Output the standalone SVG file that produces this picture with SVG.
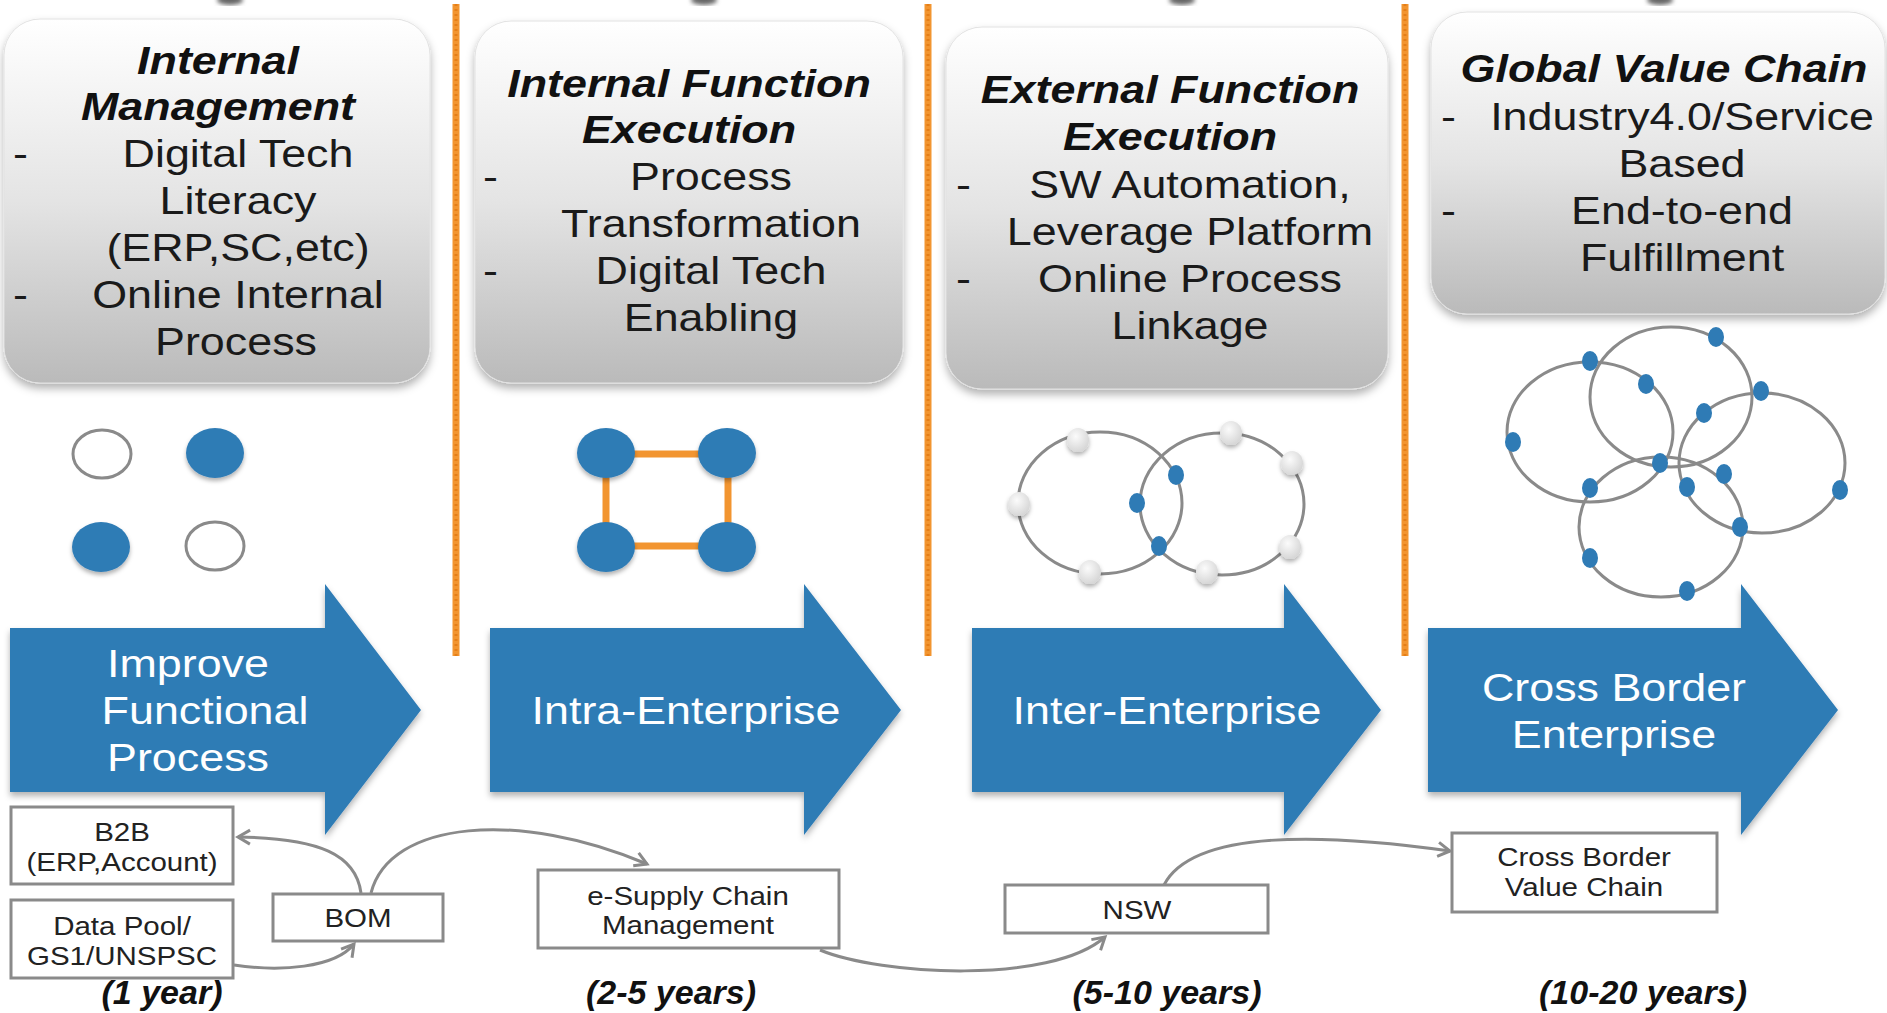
<svg xmlns="http://www.w3.org/2000/svg" width="1887" height="1013" viewBox="0 0 1887 1013">
<defs>
<style>
.t{font-family:"Liberation Sans",Arial,sans-serif;font-size:38px;fill:#1a1a1a;text-anchor:middle}
.h{font-family:"Liberation Sans",Arial,sans-serif;font-size:38px;font-weight:bold;font-style:italic;fill:#111;text-anchor:middle}
.d{font-family:"Liberation Sans",Arial,sans-serif;font-size:38px;fill:#1a1a1a;text-anchor:start}
.w{font-family:"Liberation Sans",Arial,sans-serif;font-size:38px;fill:#ffffff;text-anchor:middle}
.s{font-family:"Liberation Sans",Arial,sans-serif;font-size:25px;fill:#222;text-anchor:middle}
.y{font-family:"Liberation Sans",Arial,sans-serif;font-size:34px;font-weight:bold;font-style:italic;fill:#111;text-anchor:middle}
.card{fill:url(#cardg);stroke:#e2e2e2;stroke-width:1;filter:url(#sh)}
.arrow{fill:#2f7bb5;filter:url(#sh2)}
.sep{stroke:#f29530;stroke-width:7;fill:none}
.sep2{stroke:#e57f18;stroke-width:3;fill:none;stroke-dasharray:2 3}
.ring{fill:none;stroke:#8a8a8a;stroke-width:3}
.hollow{fill:#fff;stroke:#8a8a8a;stroke-width:3}
.blue{fill:#2f7bb5;filter:url(#sh3)}
.bd{fill:#2f7bb5}
.wd{fill:url(#wg);filter:url(#sh3)}
.ol{stroke:#f29530;stroke-width:7;fill:none}
.box{fill:#fff;stroke:#8a8a8a;stroke-width:3}
.con{fill:none;stroke:#8a8a8a;stroke-width:3;marker-end:url(#ah)}
</style>
<linearGradient id="cardg" x1="0" y1="0" x2="0" y2="1">
<stop offset="0" stop-color="#ffffff"/>
<stop offset="0.5" stop-color="#e4e4e4"/>
<stop offset="1" stop-color="#bababa"/>
</linearGradient>
<radialGradient id="wg" cx="0.4" cy="0.35" r="0.7">
<stop offset="0" stop-color="#fbfbfb"/>
<stop offset="1" stop-color="#d4d4d4"/>
</radialGradient>
<filter id="sh" x="-10%" y="-10%" width="120%" height="125%">
<feDropShadow dx="0" dy="5" stdDeviation="4" flood-color="#000" flood-opacity="0.3"/>
</filter>
<filter id="sh2" x="-10%" y="-10%" width="120%" height="125%">
<feDropShadow dx="0" dy="4" stdDeviation="3" flood-color="#000" flood-opacity="0.3"/>
</filter>
<filter id="sh3" x="-40%" y="-40%" width="180%" height="190%">
<feDropShadow dx="0" dy="3" stdDeviation="2" flood-color="#000" flood-opacity="0.3"/>
</filter>
<filter id="blur"><feGaussianBlur stdDeviation="2"/></filter>
<marker id="ah" markerWidth="18" markerHeight="18" refX="14" refY="9" orient="auto" markerUnits="userSpaceOnUse">
<path d="M2,2 L14,9 L2,16" fill="none" stroke="#8a8a8a" stroke-width="3"/>
</marker>
</defs>
<rect x="0" y="0" width="1887" height="1013" fill="#ffffff"/>

<g id="top-bits" fill="#666" filter="url(#blur)">
<ellipse cx="230" cy="0" rx="13" ry="5"/>
<ellipse cx="704" cy="0" rx="13" ry="5"/>
<ellipse cx="1182" cy="0" rx="13" ry="5"/>
<ellipse cx="1660" cy="0" rx="13" ry="5"/>
</g>

<g id="separators">
<line class="sep" x1="456" y1="4" x2="456" y2="656"/>
<line class="sep2" x1="456" y1="4" x2="456" y2="656"/>
<line class="sep" x1="928" y1="4" x2="928" y2="656"/>
<line class="sep2" x1="928" y1="4" x2="928" y2="656"/>
<line class="sep" x1="1405" y1="4" x2="1405" y2="656"/>
<line class="sep2" x1="1405" y1="4" x2="1405" y2="656"/>
</g>

<g id="card1">
<rect class="card" x="4" y="19" width="426" height="364" rx="36"/>
<text class="h" transform="translate(218 74) scale(1.18 1)">Internal</text>
<text class="h" transform="translate(218 120) scale(1.18 1)">Management</text>
<text class="d" transform="translate(13 167) scale(1.18 1)">-</text>
<text class="t" transform="translate(238 167) scale(1.18 1)">Digital Tech</text>
<text class="t" transform="translate(238 214) scale(1.18 1)">Literacy</text>
<text class="t" transform="translate(238 261) scale(1.18 1)">(ERP,SC,etc)</text>
<text class="d" transform="translate(13 308) scale(1.18 1)">-</text>
<text class="t" transform="translate(238 308) scale(1.18 1)">Online Internal</text>
<text class="t" transform="translate(236 355) scale(1.18 1)">Process</text>
</g>

<g id="card2">
<rect class="card" x="475" y="21" width="428" height="362" rx="36"/>
<text class="h" transform="translate(689 97) scale(1.18 1)">Internal Function</text>
<text class="h" transform="translate(689 143) scale(1.18 1)">Execution</text>
<text class="d" transform="translate(483 190) scale(1.18 1)">-</text>
<text class="t" transform="translate(711 190) scale(1.18 1)">Process</text>
<text class="t" transform="translate(711 237) scale(1.18 1)">Transformation</text>
<text class="d" transform="translate(483 284) scale(1.18 1)">-</text>
<text class="t" transform="translate(711 284) scale(1.18 1)">Digital Tech</text>
<text class="t" transform="translate(711 331) scale(1.18 1)">Enabling</text>
</g>

<g id="card3">
<rect class="card" x="946" y="27" width="442" height="362" rx="36"/>
<text class="h" transform="translate(1170 103) scale(1.18 1)">External Function</text>
<text class="h" transform="translate(1170 150) scale(1.18 1)">Execution</text>
<text class="d" transform="translate(956 198) scale(1.18 1)">-</text>
<text class="t" transform="translate(1190 198) scale(1.18 1)">SW Automation,</text>
<text class="t" transform="translate(1190 245) scale(1.18 1)">Leverage Platform</text>
<text class="d" transform="translate(956 292) scale(1.18 1)">-</text>
<text class="t" transform="translate(1190 292) scale(1.18 1)">Online Process</text>
<text class="t" transform="translate(1190 339) scale(1.18 1)">Linkage</text>
</g>

<g id="card4">
<rect class="card" x="1431" y="12" width="454" height="302" rx="36"/>
<text class="h" transform="translate(1664 82) scale(1.18 1)">Global Value Chain</text>
<text class="d" transform="translate(1441 130) scale(1.18 1)">-</text>
<text class="t" transform="translate(1682 130) scale(1.18 1)">Industry4.0/Service</text>
<text class="t" transform="translate(1682 177) scale(1.18 1)">Based</text>
<text class="d" transform="translate(1441 224) scale(1.18 1)">-</text>
<text class="t" transform="translate(1682 224) scale(1.18 1)">End-to-end</text>
<text class="t" transform="translate(1682 271) scale(1.18 1)">Fulfillment</text>
</g>

<g id="icon1">
<ellipse class="hollow" cx="102" cy="454" rx="29" ry="24"/>
<ellipse class="blue" cx="215" cy="453" rx="29" ry="25"/>
<ellipse class="blue" cx="101" cy="547" rx="29" ry="25"/>
<ellipse class="hollow" cx="215" cy="546" rx="29" ry="24"/>
</g>

<g id="icon2">
<line class="ol" x1="606" y1="454" x2="727" y2="454"/>
<line class="ol" x1="606" y1="546" x2="727" y2="546"/>
<line class="ol" x1="606" y1="454" x2="606" y2="546"/>
<line class="ol" x1="728" y1="454" x2="728" y2="546"/>
<ellipse class="blue" cx="606" cy="453" rx="29" ry="25"/>
<ellipse class="blue" cx="727" cy="453" rx="29" ry="25"/>
<ellipse class="blue" cx="606" cy="547" rx="29" ry="25"/>
<ellipse class="blue" cx="727" cy="547" rx="29" ry="25"/>
</g>

<g id="icon3">
<ellipse class="ring" cx="1100" cy="503" rx="82" ry="71"/>
<ellipse class="ring" cx="1222" cy="504" rx="82" ry="71"/>
<ellipse class="wd" cx="1078" cy="440" rx="11" ry="12"/>
<ellipse class="wd" cx="1019" cy="504" rx="11" ry="12"/>
<ellipse class="wd" cx="1090" cy="572" rx="11" ry="12"/>
<ellipse class="wd" cx="1231" cy="433" rx="11" ry="12"/>
<ellipse class="wd" cx="1292" cy="463" rx="11" ry="12"/>
<ellipse class="wd" cx="1290" cy="547" rx="11" ry="12"/>
<ellipse class="wd" cx="1207" cy="572" rx="11" ry="12"/>
<ellipse class="bd" cx="1176" cy="475" rx="8" ry="10"/>
<ellipse class="bd" cx="1137" cy="503" rx="8" ry="10"/>
<ellipse class="bd" cx="1159" cy="546" rx="8" ry="10"/>
</g>

<g id="icon4">
<ellipse class="ring" cx="1590" cy="432" rx="83" ry="70"/>
<ellipse class="ring" cx="1671" cy="397" rx="81" ry="70"/>
<ellipse class="ring" cx="1762" cy="463" rx="83" ry="70"/>
<ellipse class="ring" cx="1661" cy="527" rx="82" ry="70"/>
<ellipse class="bd" cx="1716" cy="337" rx="8" ry="10"/>
<ellipse class="bd" cx="1590" cy="361" rx="8" ry="10"/>
<ellipse class="bd" cx="1646" cy="384" rx="8" ry="10"/>
<ellipse class="bd" cx="1761" cy="391" rx="8" ry="10"/>
<ellipse class="bd" cx="1704" cy="413" rx="8" ry="10"/>
<ellipse class="bd" cx="1513" cy="442" rx="8" ry="10"/>
<ellipse class="bd" cx="1660" cy="463" rx="8" ry="10"/>
<ellipse class="bd" cx="1724" cy="474" rx="8" ry="10"/>
<ellipse class="bd" cx="1590" cy="488" rx="8" ry="10"/>
<ellipse class="bd" cx="1687" cy="487" rx="8" ry="10"/>
<ellipse class="bd" cx="1840" cy="490" rx="8" ry="10"/>
<ellipse class="bd" cx="1740" cy="527" rx="8" ry="10"/>
<ellipse class="bd" cx="1590" cy="558" rx="8" ry="10"/>
<ellipse class="bd" cx="1687" cy="591" rx="8" ry="10"/>
</g>

<g id="arrow1">
<polygon class="arrow" points="10,628 325,628 325,584 421,710 325,835 325,792 10,792"/>
<text class="w" transform="translate(188 677) scale(1.18 1)">Improve</text>
<text class="w" transform="translate(205 724) scale(1.18 1)">Functional</text>
<text class="w" transform="translate(188 771) scale(1.18 1)">Process</text>
</g>
<g id="arrow2">
<polygon class="arrow" points="490,628 804,628 804,584 901,710 804,835 804,792 490,792"/>
<text class="w" transform="translate(686 724) scale(1.18 1)">Intra-Enterprise</text>
</g>
<g id="arrow3">
<polygon class="arrow" points="972,628 1284,628 1284,584 1381,710 1284,835 1284,792 972,792"/>
<text class="w" transform="translate(1167 724) scale(1.18 1)">Inter-Enterprise</text>
</g>
<g id="arrow4">
<polygon class="arrow" points="1428,628 1741,628 1741,584 1838,710 1741,835 1741,792 1428,792"/>
<text class="w" transform="translate(1614 701) scale(1.18 1)">Cross Border</text>
<text class="w" transform="translate(1614 748) scale(1.18 1)">Enterprise</text>
</g>

<g id="b2b">
<rect class="box" x="11" y="807" width="222" height="77"/>
<text class="s" transform="translate(122 841) scale(1.18 1)">B2B</text>
<text class="s" transform="translate(122 871) scale(1.18 1)">(ERP,Account)</text>
</g>
<g id="datapool">
<rect class="box" x="11" y="900" width="222" height="78"/>
<text class="s" transform="translate(122 935) scale(1.18 1)">Data Pool/</text>
<text class="s" transform="translate(122 965) scale(1.18 1)">GS1/UNSPSC</text>
</g>
<g id="bom">
<rect class="box" x="273" y="894" width="170" height="47"/>
<text class="s" transform="translate(358 927) scale(1.18 1)">BOM</text>
</g>
<g id="esupply">
<rect class="box" x="538" y="870" width="301" height="78"/>
<text class="s" transform="translate(688 905) scale(1.18 1)">e-Supply Chain</text>
<text class="s" transform="translate(688 934) scale(1.18 1)">Management</text>
</g>
<g id="nsw">
<rect class="box" x="1005" y="885" width="263" height="48"/>
<text class="s" transform="translate(1137 919) scale(1.18 1)">NSW</text>
</g>
<g id="crossborder">
<rect class="box" x="1452" y="833" width="265" height="79"/>
<text class="s" transform="translate(1584 866) scale(1.18 1)">Cross Border</text>
<text class="s" transform="translate(1584 896) scale(1.18 1)">Value Chain</text>
</g>

<g id="connectors">
<path class="con" d="M361,893 C356,855 320,838 238,837"/>
<path class="con" d="M371,893 C390,820 520,810 647,864"/>
<path class="con" d="M234,965 C280,972 335,968 354,944"/>
<path class="con" d="M820,950 C880,975 1050,985 1105,937"/>
<path class="con" d="M1164,885 C1190,835 1300,830 1450,851"/>
</g>

<g id="years">
<text class="y" x="162" y="1004">(1 year)</text>
<text class="y" x="671" y="1004">(2-5 years)</text>
<text class="y" x="1167" y="1004">(5-10 years)</text>
<text class="y" x="1643" y="1004">(10-20 years)</text>
</g>
</svg>
